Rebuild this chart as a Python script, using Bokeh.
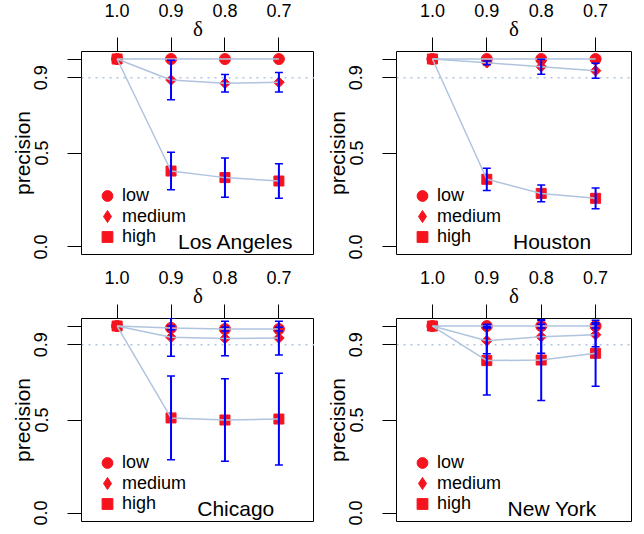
from bokeh.plotting import figure
from bokeh.layouts import column, row
from bokeh.models import (ColumnDataSource, FixedTicker, Whisker, TeeHead, Span,
                          Label, Legend, LegendItem, Range1d, PrintfTickFormatter)
from bokeh.embed import file_html
from bokeh.resources import INLINE
import numpy as np

# ---- data ----
delta_pos = [1, 2, 3, 4]
delta_labels = ["1.0", "0.9", "0.8", "0.7"]
y_ticks = [0.0, 0.5, 0.9, 1.0]

la_low = [1.0, 1.0, 1.0, 1.0]
la_low_err = [0.0, 0.0, 0.0, 0.0]
la_medium = [1.0, 0.888, 0.871, 0.876]
la_medium_err = [0.0, 0.105, 0.047, 0.052]
la_high = [1.0, 0.404, 0.369, 0.351]
la_high_err = [0.0, 0.100, 0.104, 0.092]

hou_low = [1.0, 1.0, 1.0, 1.0]
hou_low_err = [0.0, 0.0, 0.0, 0.0]
hou_medium = [1.0, 0.980, 0.959, 0.938]
hou_medium_err = [0.0, 0.010, 0.040, 0.040]
hou_high = [1.0, 0.360, 0.285, 0.259]
hou_high_err = [0.0, 0.059, 0.045, 0.055]

chi_low = [1.0, 0.990, 0.984, 0.984]
chi_low_err = [0.0, 0.010, 0.010, 0.010]
chi_medium = [1.0, 0.940, 0.934, 0.936]
chi_medium_err = [0.0, 0.101, 0.092, 0.090]
chi_high = [1.0, 0.511, 0.500, 0.505]
chi_high_err = [0.0, 0.223, 0.220, 0.244]

ny_low = [1.0, 1.0, 1.0, 1.0]
ny_low_err = [0.0, 0.010, 0.010, 0.010]
ny_medium = [1.0, 0.922, 0.943, 0.954]
ny_medium_err = [0.0, 0.070, 0.088, 0.064]
ny_high = [1.0, 0.816, 0.819, 0.855]
ny_high_err = [0.0, 0.183, 0.215, 0.176]

FONT = "Liberation Sans"
RED = "#F5141E"
LINE = "#B0C4DE"


def make_panel(city, low, low_err, med, med_err, high, high_err,
               width, height, bl, br, bt, bb):
    p = figure(width=width, height=height,
               x_range=Range1d(0.34, 4.66), y_range=Range1d(-0.04, 1.04),
               x_axis_location="above", y_axis_location="left",
               output_backend="svg", toolbar_location=None, tools="",
               min_border_left=bl, min_border_right=br,
               min_border_top=bt, min_border_bottom=bb)
    p.xgrid.visible = False
    p.ygrid.visible = False
    p.outline_line_color = "black"
    p.outline_line_width = 1
    p.outline_line_alpha = 1
    p.background_fill_color = "white"
    p.border_fill_color = "white"

    # axes
    xa = p.xaxis[0]
    xa.ticker = FixedTicker(ticks=delta_pos)
    xa.major_label_overrides = {k: v for k, v in zip(delta_pos, delta_labels)}
    xa.axis_label = "δ"
    xa.axis_label_text_font = "Liberation Serif"
    xa.axis_label_text_font_size = "21px"
    xa.axis_label_text_font_style = "normal"
    xa.axis_label_text_color = "black"
    xa.axis_label_standoff = -40
    ya = p.yaxis[0]
    ya.ticker = FixedTicker(ticks=y_ticks)
    ya.formatter = PrintfTickFormatter(format="%.1f")
    ya.major_label_overrides = {1.0: ""}
    ya.major_label_orientation = "vertical"
    ya.axis_label = "precision"
    ya.axis_label_text_font = FONT
    ya.axis_label_text_font_size = "21px"
    ya.axis_label_text_font_style = "normal"
    ya.axis_label_text_color = "black"
    ya.axis_label_standoff = -2
    for ax in (xa, ya):
        ax.axis_line_color = None
        ax.major_tick_line_color = "black"
        ax.major_tick_line_width = 1
        ax.major_tick_out = 14
        ax.major_tick_in = 0
        ax.minor_tick_line_color = None
        ax.major_label_text_font = FONT
        ax.major_label_text_font_size = "18px"
        ax.major_label_text_color = "black"
    xa.major_label_standoff = 21
    ya.major_label_standoff = 20

    p.add_layout(Span(location=0.9, dimension="width", line_color=LINE,
                      line_dash="2 5", line_width=1.5, level="underlay"))

    x = np.array(delta_pos, dtype=float)
    r_low = p.scatter(x, low, marker="circle", size=11, color=RED)
    r_med_key = p.scatter(x, med, marker="diamond", size=6, color=RED)
    p.scatter(x, med, marker="square", angle=np.pi / 4, size=7.5, color=RED)
    r_high = p.scatter(x, high, marker="square", size=10, color=RED)

    for ys in (low, med, high):
        p.line(x, ys, line_color=LINE, line_width=1.5)

    # error bars
    bx, lo, up = [], [], []
    for ys, es in ((low, low_err), (med, med_err), (high, high_err)):
        for xi, yi, ei in zip(x, ys, es):
            if ei > 0:
                bx.append(xi)
                lo.append(yi - ei)
                up.append(yi + ei)
    src = ColumnDataSource(dict(x=bx, lower=lo, upper=up))
    w = Whisker(base="x", lower="lower", upper="upper", source=src,
                line_color="blue", line_width=2, level="annotation",
                upper_head=TeeHead(size=8, line_color="blue", line_width=1.5),
                lower_head=TeeHead(size=8, line_color="blue", line_width=1.5))
    p.add_layout(w)

    # legend: one single-row legend per entry
    for lab, rend, yoff, gh in (("low", r_low, 45, 27), ("medium", r_med_key, 23, 30),
                                ("high", r_high, 4, 27)):
        lg = Legend(items=[LegendItem(label=lab, renderers=[rend])],
                    location=(11, yoff), orientation="vertical",
                    glyph_width=30, glyph_height=gh, label_height=21,
                    spacing=0, padding=0, margin=0, label_standoff=0,
                    border_line_alpha=0, background_fill_alpha=0,
                    label_text_font=FONT, label_text_font_size="18px",
                    label_text_color="black")
        p.add_layout(lg)

    p.add_layout(Label(x=3.2, y=0.0, y_offset=5, text=city,
                       text_align="center", text_baseline="alphabetic",
                       text_font=FONT, text_font_size="21px",
                       text_color="black"))
    return p


p1 = make_panel("Los Angeles", la_low, la_low_err, la_medium, la_medium_err,
                la_high, la_high_err, 314, 267, 81, 0, 51, 13)
p2 = make_panel("Houston", hou_low, hou_low_err, hou_medium, hou_medium_err,
                hou_high, hou_high_err, 321, 267, 82, 4, 51, 13)
p3 = make_panel("Chicago", chi_low, chi_low_err, chi_medium, chi_medium_err,
                chi_high, chi_high_err, 314, 258, 81, 0, 51, 4)
p4 = make_panel("New York", ny_low, ny_low_err, ny_medium, ny_medium_err,
                ny_high, ny_high_err, 321, 258, 82, 4, 51, 4)

layout = column(row(p1, p2), row(p3, p4))
open("out.html", "w").write(file_html(layout, INLINE))
